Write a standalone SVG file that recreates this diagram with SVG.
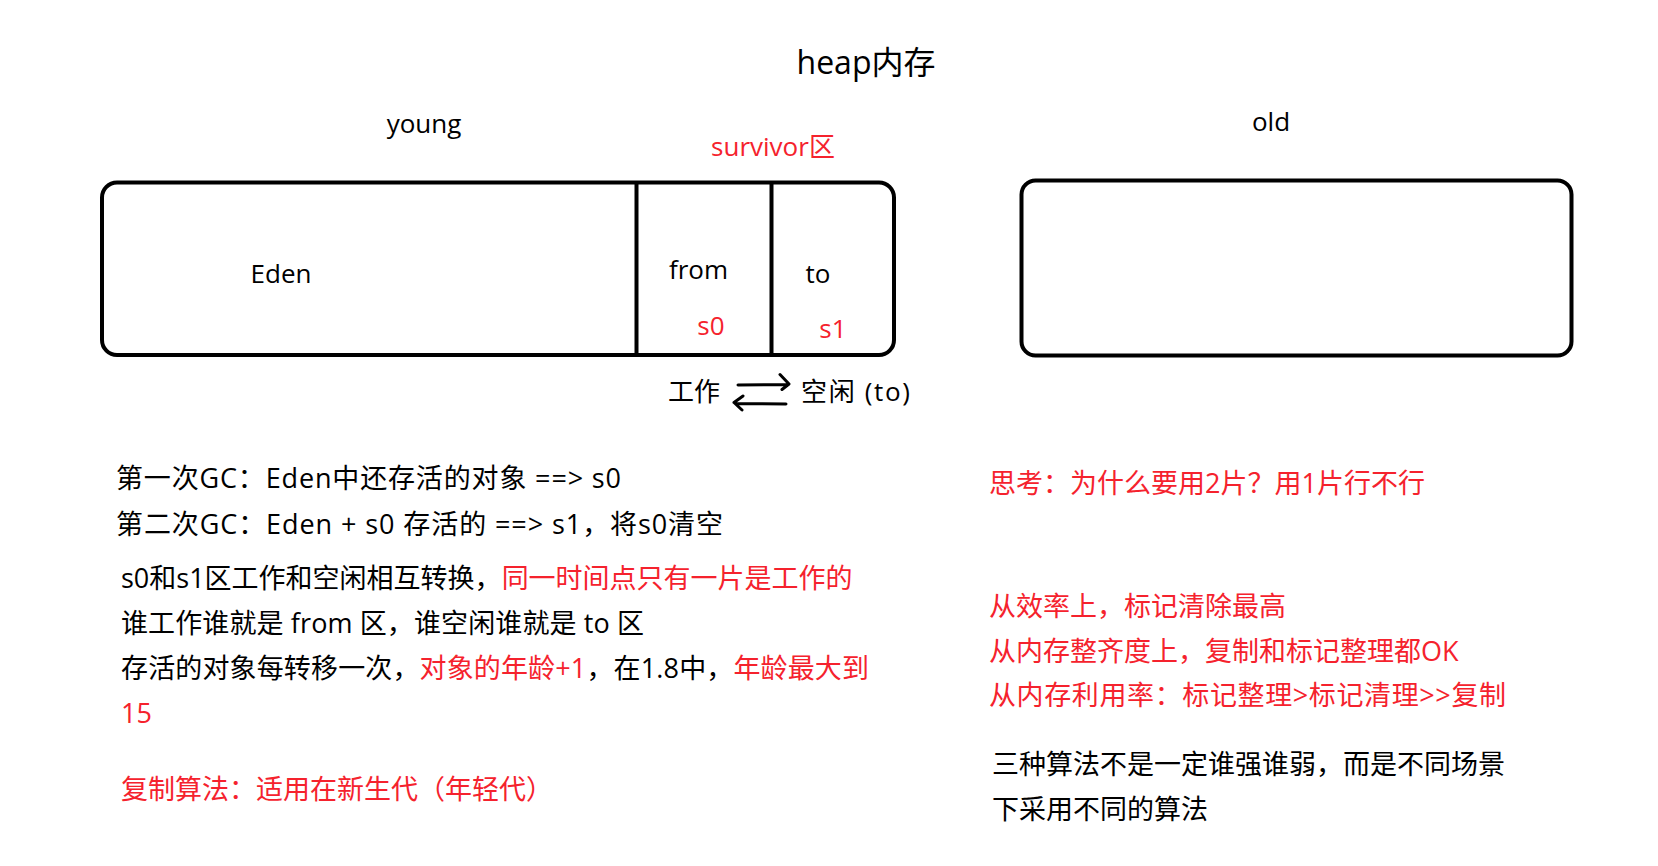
<svg xmlns="http://www.w3.org/2000/svg" width="1658" height="866" viewBox="0 0 1658 866">
<style>
  text { font-family: "Open Sans", "Noto Sans CJK SC", sans-serif; fill: #000; }
  .red { fill: #f5222d; }
  .t26 { font-size: 26px; }
  .t27 { font-size: 27px; }
  .title { font-size: 32px; }
  .box { fill: #fff; stroke: #000; stroke-width: 4; }
  .div { stroke: #000; stroke-width: 4; }
  .arr { fill: none; stroke: #000; stroke-width: 3; stroke-linecap: round; stroke-linejoin: round; }
</style>
<rect width="1658" height="866" fill="#fff"/>

<g id="title">
  <text class="title" x="866" y="74" text-anchor="middle">heap内存</text>
</g>

<g id="labels">
  <text class="t26" x="424" y="133" text-anchor="middle">young</text>
  <text class="t26" x="1271" y="131" text-anchor="middle">old</text>
  <text class="t26 red" x="773" y="156" text-anchor="middle">survivor区</text>
</g>

<g id="young">
  <rect class="box" x="102" y="182.5" width="792" height="172.5" rx="15"/>
  <line class="div" x1="636.5" y1="182.5" x2="636.5" y2="355"/>
  <line class="div" x1="771.5" y1="182.5" x2="771.5" y2="355"/>
  <g id="eden"><text class="t26" x="281" y="283" text-anchor="middle">Eden</text></g>
  <g id="from"><text class="t26" x="698.5" y="279" text-anchor="middle">from</text>
    <text class="t26 red" x="711" y="335" text-anchor="middle">s0</text></g>
  <g id="to"><text class="t26" x="818" y="283" text-anchor="middle">to</text>
    <text class="t26 red" x="833" y="338" text-anchor="middle">s1</text></g>
</g>

<g id="old">
  <rect class="box" x="1021.5" y="180.5" width="550" height="175" rx="14"/>
</g>

<g id="swap">
  <text class="t26" x="668" y="401">工作</text>
  <text class="t26" x="801" y="401" textLength="109" lengthAdjust="spacing">空闲 (to)</text>
</g>

<g id="connectors">
  <path class="arr" d="M738,385 L787,384.5 M780,374.5 L789,384 L782,389.5"/>
  <path class="arr" d="M786,404 L737,403.5 M743,396 L734,402.5 L742,410"/>
</g>

<g id="left-notes">
  <text class="t27" x="116" y="488" textLength="505" lengthAdjust="spacing">第一次GC：Eden中还存活的对象 ==&gt; s0</text>
  <text class="t27" x="116" y="534" textLength="607" lengthAdjust="spacing">第二次GC：Eden + s0 存活的 ==&gt; s1，将s0清空</text>
  <text class="t27" x="121" y="588">s0和s1区工作和空闲相互转换，<tspan class="red">同一时间点只有一片是工作的</tspan></text>
  <text class="t27" x="121" y="633" textLength="523" lengthAdjust="spacing">谁工作谁就是 from 区，谁空闲谁就是 to 区</text>
  <text class="t27" x="121" y="678" textLength="748" lengthAdjust="spacing">存活的对象每转移一次，<tspan class="red">对象的年龄+1</tspan>，在1.8中，<tspan class="red">年龄最大到</tspan></text>
  <text class="t27 red" x="121" y="723">15</text>
  <text class="t27 red" x="121" y="799">复制算法：适用在新生代（年轻代）</text>
</g>

<g id="right-notes">
  <text class="t27 red" x="989" y="493">思考：为什么要用2片？用1片行不行</text>
  <text class="t27 red" x="989" y="616">从效率上，标记清除最高</text>
  <text class="t27 red" x="989" y="661">从内存整齐度上，复制和标记整理都OK</text>
  <text class="t27 red" x="989" y="705" textLength="517" lengthAdjust="spacing">从内存利用率：标记整理&gt;标记清理&gt;&gt;复制</text>
  <text class="t27" x="992" y="774">三种算法不是一定谁强谁弱，而是不同场景</text>
  <text class="t27" x="992" y="819">下采用不同的算法</text>
</g>
</svg>
